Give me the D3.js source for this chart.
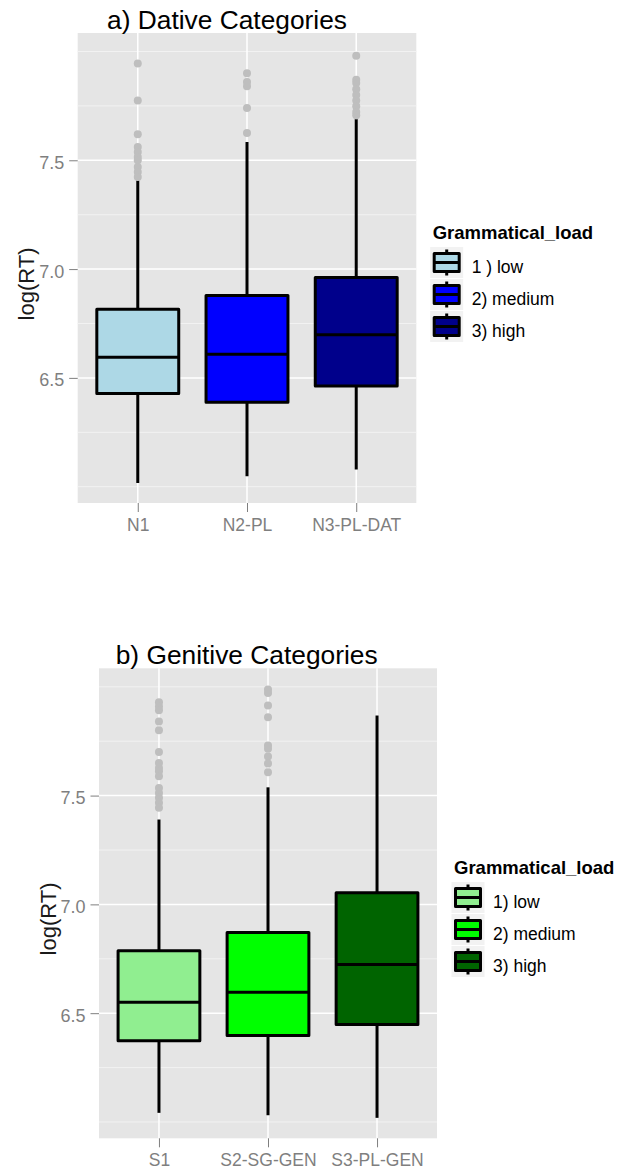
<!DOCTYPE html>
<html>
<head>
<meta charset="utf-8">
<script src="https://cdn.jsdelivr.net/npm/d3@7"></script>
<style>
  html, body { margin: 0; padding: 0; background: #ffffff; }
  svg { display: block; font-family: "Liberation Sans", Arial, sans-serif; }
</style>
</head>
<body>
<svg id="chart" width="626" height="1171"></svg>
<script>
// ---------- DATA ----------
const yTicks = [6.5, 7.0, 7.5];
const yMinor = [6.0, 6.25, 6.75, 7.25, 7.75, 8.0];

// Panel a) Dative
const titleA = "a) Dative Categories";
const catsA = ["N1", "N2-PL", "N3-PL-DAT"];
const legendLabelsA = ["1 ) low", "2) medium", "3) high"];
const coloursA = ["#ADD8E6", "#0000FF", "#00008B"];
const lowerA  = [6.017, 6.048, 6.079];
const q1A     = [6.428, 6.388, 6.463];
const medianA = [6.595, 6.609, 6.698];
const q3A     = [6.816, 6.879, 6.961];
const upperA  = [7.408, 7.584, 7.689];
const outliersA = [
  [7.945, 7.775, 7.62, 7.561, 7.538, 7.515, 7.5, 7.469, 7.446, 7.423],
  [7.90, 7.86, 7.84, 7.74, 7.626],
  [7.98, 7.87, 7.855, 7.827, 7.80, 7.775, 7.748, 7.722, 7.707]
];

// Panel b) Genitive
const titleB = "b) Genitive Categories";
const catsB = ["S1", "S2-SG-GEN", "S3-PL-GEN"];
const legendLabelsB = ["1) low", "2) medium", "3) high"];
const coloursB = ["#90EE90", "#00FF00", "#006400"];
const lowerB  = [6.042, 6.031, 6.019];
const q1B     = [6.373, 6.398, 6.448];
const medianB = [6.550, 6.596, 6.724];
const q3B     = [6.787, 6.871, 7.053];
const upperB  = [7.39, 7.538, 7.868];
const outliersB = [
  [7.929, 7.91, 7.892, 7.841, 7.80, 7.70, 7.65, 7.627, 7.612, 7.589, 7.535, 7.512, 7.49, 7.467, 7.444],
  [7.987, 7.972, 7.914, 7.86, 7.73, 7.715, 7.68, 7.647, 7.607],
  []
];

const yLabel = "log(RT)";
const legendTitle = "Grammatical_load";
const yDomain = [5.925, 8.085];

// ---------- DRAW ----------
const svg = d3.select("#chart");

function drawPanel(o) {
  const g = svg.append("g");
  const x = d3.scalePoint().domain(o.cats).range([o.left, o.right]).padding(0.55);
  const y = d3.scaleLinear().domain(yDomain).range([o.bottom, o.top]);
  const bw = x.step() * 0.75;

  // panel background
  g.append("rect").attr("x", o.left).attr("y", o.top)
    .attr("width", o.right - o.left).attr("height", o.bottom - o.top)
    .attr("fill", "#E5E5E5");

  // minor grid
  g.selectAll(".minor").data(yMinor).join("line")
    .attr("x1", o.left).attr("x2", o.right)
    .attr("y1", d => y(d)).attr("y2", d => y(d))
    .attr("stroke", "#F2F2F2").attr("stroke-width", 1);
  // major grid
  g.selectAll(".major").data(yTicks).join("line")
    .attr("x1", o.left).attr("x2", o.right)
    .attr("y1", d => y(d)).attr("y2", d => y(d))
    .attr("stroke", "#FFFFFF").attr("stroke-width", 1.5);
  g.selectAll(".vgrid").data(o.cats).join("line")
    .attr("x1", d => x(d)).attr("x2", d => x(d))
    .attr("y1", o.top).attr("y2", o.bottom)
    .attr("stroke", "#FFFFFF").attr("stroke-width", 1.5);

  // y axis
  const yAxis = d3.axisLeft(y).tickValues(yTicks).tickFormat(d3.format(".1f"))
    .tickSize(8.5).tickPadding(5);
  const ya = g.append("g").attr("transform", `translate(${o.left},0)`).call(yAxis);
  ya.select(".domain").remove();
  ya.selectAll("line").attr("stroke", "#7F7F7F").attr("stroke-width", 1);
  ya.selectAll("text").attr("fill", "#7F7F7F").attr("font-size", 18)
    .attr("font-family", "Liberation Sans, Arial, sans-serif").attr("dy", "0.45em");

  // x axis
  const xAxis = d3.axisBottom(x).tickSize(9).tickPadding(5);
  const xa = g.append("g").attr("transform", `translate(0,${o.bottom})`).call(xAxis);
  xa.select(".domain").remove();
  xa.selectAll("line").attr("stroke", "#7F7F7F").attr("stroke-width", 1);
  xa.selectAll("text").attr("fill", "#7F7F7F").attr("font-size", 17.5)
    .attr("font-family", "Liberation Sans, Arial, sans-serif").attr("dy", "0.78em");

  // boxes
  const idx = d3.range(o.cats.length);
  const boxes = g.selectAll(".box").data(idx).join("g");
  boxes.append("line")
    .attr("x1", i => x(o.cats[i])).attr("x2", i => x(o.cats[i]))
    .attr("y1", i => y(o.upper[i])).attr("y2", i => y(o.q3[i]))
    .attr("stroke", "#000").attr("stroke-width", 3);
  boxes.append("line")
    .attr("x1", i => x(o.cats[i])).attr("x2", i => x(o.cats[i]))
    .attr("y1", i => y(o.q1[i])).attr("y2", i => y(o.lower[i]))
    .attr("stroke", "#000").attr("stroke-width", 3);
  boxes.append("rect")
    .attr("x", i => x(o.cats[i]) - bw / 2).attr("width", bw)
    .attr("y", i => y(o.q3[i])).attr("height", i => y(o.q1[i]) - y(o.q3[i]))
    .attr("fill", i => o.colours[i]).attr("stroke", "#000").attr("stroke-width", 3)
    .attr("stroke-linejoin", "round");
  boxes.append("line")
    .attr("x1", i => x(o.cats[i]) - bw / 2).attr("x2", i => x(o.cats[i]) + bw / 2)
    .attr("y1", i => y(o.median[i])).attr("y2", i => y(o.median[i]))
    .attr("stroke", "#000").attr("stroke-width", 3);

  // outliers
  const pts = [];
  idx.forEach(i => o.outliers[i].forEach(v => pts.push({ c: o.cats[i], v })));
  g.selectAll(".out").data(pts).join("circle")
    .attr("cx", d => x(d.c)).attr("cy", d => y(d.v)).attr("r", 4)
    .attr("fill", "#BEBEBE");

  // title
  g.append("text").attr("x", o.titleX).attr("y", o.titleY)
    .attr("font-size", 25).attr("fill", "#000")
    .attr("textLength", o.titleLen).attr("lengthAdjust", "spacingAndGlyphs")
    .text(o.title);

  // y label
  g.append("text")
    .attr("transform", `translate(${o.ylabX},${o.ylabY}) rotate(-90)`)
    .attr("text-anchor", "middle").attr("font-size", 22).attr("fill", "#1a1a1a")
    .text(yLabel);

  // legend
  const lg = g.append("g");
  lg.append("text").attr("x", o.legX).attr("y", o.legY)
    .attr("font-size", 18.5).attr("font-weight", "bold").attr("fill", "#000")
    .text(legendTitle);
  const rowH = 32;
  const keys = lg.selectAll(".key").data(idx).join("g")
    .attr("transform", i => `translate(${o.legX},${o.legY + 23.5 + i * rowH})`);
  keys.append("rect").attr("x", -2.5).attr("y", -15.5).attr("width", 33).attr("height", 31)
    .attr("fill", "#F2F2F2");
  keys.append("line").attr("x1", 14).attr("x2", 14).attr("y1", -13).attr("y2", 13)
    .attr("stroke", "#000").attr("stroke-width", 3);
  keys.append("rect").attr("x", 1.5).attr("y", -9).attr("width", 25).attr("height", 18)
    .attr("fill", i => o.colours[i]).attr("stroke", "#000").attr("stroke-width", 3)
    .attr("stroke-linejoin", "round");
  keys.append("line").attr("x1", 1.5).attr("x2", 26.5).attr("y1", 0).attr("y2", 0)
    .attr("stroke", "#000").attr("stroke-width", 3);
  keys.append("text").attr("x", 39).attr("y", 10)
    .attr("font-size", 17.5).attr("fill", "#000")
    .text(i => o.legendLabels[i]);
}

drawPanel({
  cats: catsA, colours: coloursA, legendLabels: legendLabelsA,
  lower: lowerA, q1: q1A, median: medianA, q3: q3A, upper: upperA, outliers: outliersA,
  title: titleA, titleX: 107, titleY: 29, titleLen: 240,
  left: 77.7, right: 416.3, top: 33, bottom: 503,
  ylabX: 34, ylabY: 284,
  legX: 432.7, legY: 239
});

drawPanel({
  cats: catsB, colours: coloursB, legendLabels: legendLabelsB,
  lower: lowerB, q1: q1B, median: medianB, q3: q3B, upper: upperB, outliers: outliersB,
  title: titleB, titleX: 115.7, titleY: 664, titleLen: 262,
  left: 99, right: 437, top: 668.3, bottom: 1138.3,
  ylabX: 56, ylabY: 919,
  legX: 454, legY: 874
});
</script>
</body>
</html>
